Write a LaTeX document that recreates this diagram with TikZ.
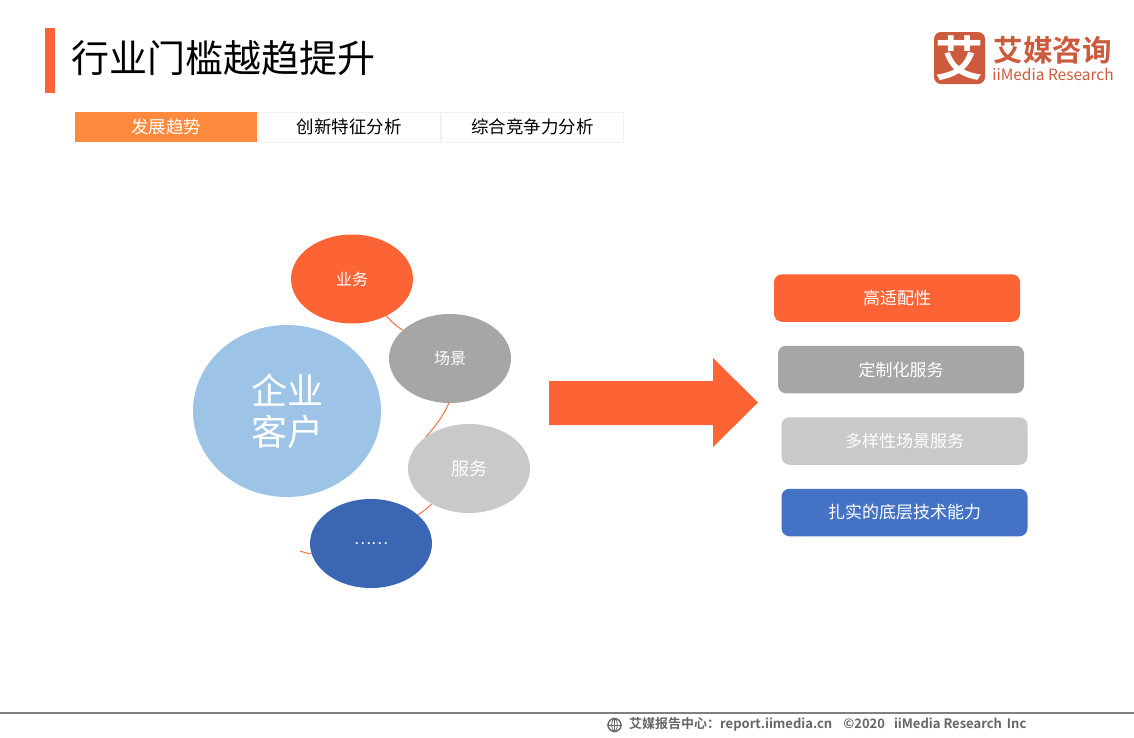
\documentclass[tikz,border=0pt]{standalone}
\usepackage{fontspec}
\setmainfont{Noto Sans CJK SC}[BoldFont={Noto Sans CJK SC Bold}]
\usepackage{xcolor}
\usepackage{tikz}
\usetikzlibrary{shapes.geometric,positioning,calc,backgrounds}
\definecolor{accentorange}{HTML}{FC6435}
\definecolor{taborange}{HTML}{FF8A3D}
\definecolor{logored}{HTML}{CB5B3C}
\definecolor{midgrey}{HTML}{A6A6A6}
\definecolor{lightgrey}{HTML}{C9C9C9}
\definecolor{skyblue}{HTML}{9DC3E6}
\definecolor{deepblue}{HTML}{3A66B4}
\definecolor{boxblue}{HTML}{4472C4}
\newcommand{\px}[1]{\fontsize{#1}{#1}\selectfont}
\tikzset{
    bubble/.style={ellipse, minimum width=122pt, minimum height=89pt, inner sep=0pt, text=white, font=\px{16}},
    pillbox/.style={rounded corners=8pt, minimum width=246pt, minimum height=47.5pt, inner sep=0pt, text=white, font=\px{17}},
    tabbox/.style={minimum width=182pt, minimum height=30pt, inner sep=0pt, font=\px{17.5}},
    linkline/.style={draw=accentorange, line width=0.9pt}
}

\begin{document}
\begin{tikzpicture}[x=1pt, y=-1pt]
                    \useasboundingbox (0,0) rectangle (1134,737);

                    % header
                    \node[fill=accentorange, minimum width=10pt, minimum height=65pt, inner sep=0pt] (titlebar) at (50,60.5) {};
                    \node[font=\px{38}, anchor=west, inner sep=0pt] (title) at (71,58) {行业门槛越趋提升};

                    \node[tabbox, fill=taborange, text=white] (taba) at (166,127) {发展趋势};
                    \node[tabbox, draw=black!6, line width=0.8pt] (tabb) at (349,127) {创新特征分析};
                    \node[tabbox, draw=black!6, line width=0.8pt] (tabc) at (532.5,127) {综合竞争力分析};

                    % logo
                    \node[fill=logored, rounded corners=7pt, minimum width=51pt, minimum height=52pt, inner sep=0pt, text=white, font=\bfseries\px{48}] (logobox) at (959.5,58) {艾};
                    \node[text=logored, font=\bfseries\px{29.5}, inner sep=0pt] (logotext) at (1052.5,50.5) {艾媒咨询};
                    \node[text=logored, font=\px{15.5}, inner sep=0pt] (logosub) at (1053,74) {iiMedia Research};

                    % bubbles
                    \node[ellipse, fill=skyblue, minimum width=188pt, minimum height=172pt, inner sep=0pt, text=white, align=center, font=\px{36}] (client) at (287,411) {企业\\[5pt]客户};
                    \node[bubble, fill=accentorange] (business) at (352,279) {业务};
                    \node[bubble, fill=midgrey] (scene) at (450,358.5) {场景};
                    \node[bubble, fill=lightgrey, font=\px{18}] (service) at (469,468.5) {服务};
                    \node[bubble, fill=deepblue] (more) at (371,543.5) {……};
                    \coordinate (moreend) at (300,551);

                    \begin{scope}[on background layer]
                        \draw[linkline] (business) to[bend right=8] (scene);
                        \draw[linkline] (scene.south) ++(-1,0) to[bend left=8] (service.north west);
                        \draw[linkline] (service) to[bend left=6] (more);
                        \draw[linkline] (more) to[bend left=4] (moreend);
                    \end{scope}

                    % arrow
                    \fill[accentorange] (549,381) -- (713,381) -- (713,358) -- (758,402.5) -- (713,447) -- (713,425) -- (549,425) -- cycle;

                    % result boxes
                    \node[pillbox, fill=accentorange] (fit) at (897,298) {高适配性};
                    \node[pillbox, fill=midgrey] (custom) at (901,369.5) {定制化服务};
                    \node[pillbox, fill=lightgrey] (diverse) at (904.5,441) {多样性场景服务};
                    \node[pillbox, fill=boxblue] (tech) at (904.5,512.5) {扎实的底层技术能力};

                    % footer
                    \draw[black!50, line width=2pt] (0,712.5) -- (1134,712.5);
                    \node[circle, draw=black!60, line width=1.4pt, minimum size=13pt, inner sep=0pt] (globe) at (614.5,725) {};
                    \draw[black!60, line width=0.8pt] (globe.north) -- (globe.south);
                    \draw[black!60, line width=0.8pt] (globe.west) -- (globe.east);
                    \draw[black!60, line width=0.8pt] (globe.north) to[bend left=45] (globe.south);
                    \draw[black!60, line width=0.8pt] (globe.north) to[bend right=45] (globe.south);
                    \node[text=black!60, font=\bfseries\px{13}, anchor=west, inner sep=0pt] (footer) at (629,724.5) {艾媒报告中心：report.iimedia.cn\hspace{11pt}©2020\hspace{9pt}iiMedia Research\hspace{5pt}Inc};
                \end{tikzpicture}
\end{document}
